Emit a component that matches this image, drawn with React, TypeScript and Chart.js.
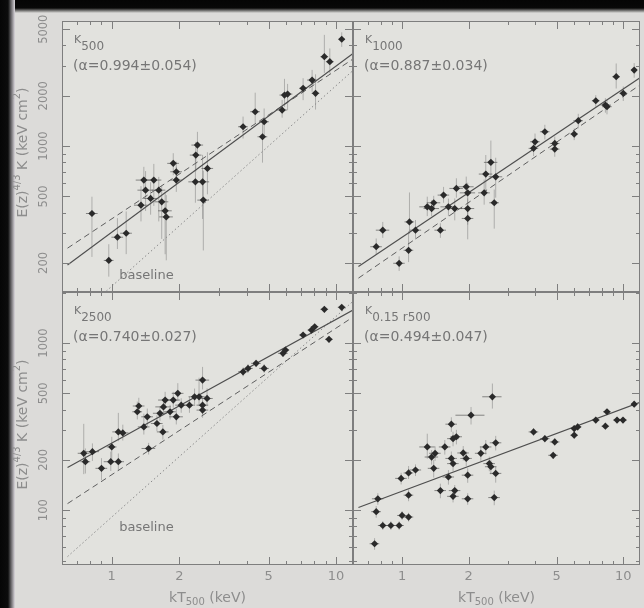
import React, { useEffect, useRef } from "react";
import { Chart, registerables } from "chart.js";

Chart.register(...registerables);

const W = 644;
const H = 608;

// plot-area edges of the 2x2 grid (pixels)
const PANEL_X = [
  [62, 353],
  [353, 642],
];
const PANEL_Y = [
  [21, 292],
  [292, 565],
];

const xTicks = [1, 2, 5, 10];
const yTicksUpper = [200, 500, 1000, 2000, 5000];
const yTicksLower = [100, 200, 500, 1000];

const kTRange = [0.635, 11.9];
const kUpperRange = [134, 5600];
const kLowerRange = [47, 2020];

// [kT (keV), K, frac. kT error, frac. K error below, frac. K error above]
const k500Data = [
  [0.816, 395, 0.06, 0.45, 0.26],
  [0.97, 207, 0.05, 0.2, 0.25],
  [1.06, 285, 0.06, 0.15, 0.3],
  [1.16, 301, 0.06, 0.25, 0.35],
  [1.35, 443, 0.07, 0.2, 0.3],
  [1.39, 626, 0.08, 0.15, 0.2],
  [1.415, 545, 0.08, 0.25, 0.3],
  [1.49, 486, 0.07, 0.2, 0.25],
  [1.54, 626, 0.08, 0.3, 0.25],
  [1.62, 545, 0.07, 0.35, 0.2],
  [1.67, 464, 0.07, 0.4, 0.25],
  [1.73, 410, 0.07, 0.45, 0.3],
  [1.75, 377, 0.07, 0.45, 0.35],
  [1.88, 788, 0.06, 0.15, 0.15],
  [1.94, 702, 0.06, 0.15, 0.15],
  [1.94, 626, 0.06, 0.15, 0.2],
  [2.37, 883, 0.06, 0.2, 0.2],
  [2.41, 1014, 0.06, 0.15, 0.2],
  [2.36, 611, 0.07, 0.25, 0.4],
  [2.54, 611, 0.07, 0.4, 0.45],
  [2.56, 475, 0.06, 0.5, 0.5],
  [2.67, 735, 0.06, 0.3, 0.25],
  [3.85, 1305, 0.05, 0.15, 0.15],
  [4.36, 1605, 0.05, 0.15, 0.3],
  [4.78, 1398, 0.05, 0.2, 0.2],
  [4.7, 1137, 0.05, 0.3, 0.2],
  [5.75, 1643, 0.05, 0.1, 0.15],
  [5.89, 2019, 0.05, 0.15, 0.25],
  [6.08, 2047, 0.05, 0.2, 0.15],
  [7.13, 2215, 0.04, 0.15, 0.15],
  [7.82, 2483, 0.05, 0.15, 0.15],
  [8.1, 2067, 0.04, 0.2, 0.3],
  [8.87, 3426, 0.04, 0.2, 0.35],
  [9.38, 3197, 0.04, 0.15, 0.2],
  [10.6, 4355, 0.03, 0.1, 0.1],
];

const k1000Data = [
  [0.764, 250, 0.06, 0.1, 0.12],
  [0.818, 314, 0.07, 0.1, 0.12],
  [0.97, 199, 0.06, 0.1, 0.1],
  [1.07, 238, 0.05, 0.15, 0.3],
  [1.08, 352, 0.05, 0.15, 0.5],
  [1.15, 314, 0.06, 0.12, 0.15],
  [1.3, 433, 0.08, 0.12, 0.15],
  [1.36, 423, 0.08, 0.1, 0.12],
  [1.39, 458, 0.07, 0.1, 0.1],
  [1.49, 314, 0.06, 0.1, 0.1],
  [1.54, 509, 0.06, 0.1, 0.12],
  [1.62, 433, 0.08, 0.12, 0.12],
  [1.73, 423, 0.08, 0.15, 0.15],
  [1.76, 558, 0.07, 0.12, 0.15],
  [1.95, 571, 0.08, 0.12, 0.15],
  [1.98, 525, 0.08, 0.15, 0.15],
  [1.98, 423, 0.07, 0.2, 0.15],
  [1.98, 369, 0.06, 0.25, 0.15],
  [2.35, 525, 0.06, 0.15, 0.2],
  [2.39, 680, 0.07, 0.2, 0.3],
  [2.52, 799, 0.07, 0.2, 0.35],
  [2.65, 655, 0.07, 0.25, 0.3],
  [2.61, 458, 0.05, 0.3, 0.2],
  [3.93, 969, 0.05, 0.1, 0.1],
  [3.99, 1061, 0.05, 0.1, 0.12],
  [4.42, 1218, 0.05, 0.1, 0.1],
  [4.9, 1037, 0.05, 0.1, 0.1],
  [4.9, 959, 0.05, 0.1, 0.1],
  [6.0, 1180, 0.04, 0.08, 0.08],
  [6.26, 1418, 0.05, 0.1, 0.1],
  [7.51, 1867, 0.04, 0.08, 0.08],
  [8.3, 1760, 0.05, 0.1, 0.1],
  [8.44, 1720, 0.05, 0.1, 0.1],
  [9.29, 2600, 0.04, 0.15, 0.2],
  [10.0, 2067, 0.04, 0.1, 0.1],
  [11.2, 2850, 0.03, 0.1, 0.1],
];

const k2500Data = [
  [0.75, 219, 0.06, 0.25, 0.5],
  [0.763, 195, 0.05, 0.15, 0.2],
  [0.82, 224, 0.07, 0.12, 0.12],
  [0.9, 178, 0.06, 0.15, 0.15],
  [1.0, 239, 0.05, 0.15, 0.15],
  [0.99, 195, 0.07, 0.12, 0.15],
  [1.07, 195, 0.06, 0.12, 0.12],
  [1.07, 294, 0.06, 0.12, 0.3],
  [1.12, 290, 0.06, 0.1, 0.12],
  [1.3, 388, 0.05, 0.1, 0.15],
  [1.32, 420, 0.06, 0.1, 0.12],
  [1.39, 315, 0.06, 0.1, 0.2],
  [1.44, 362, 0.06, 0.12, 0.12],
  [1.46, 234, 0.07, 0.08, 0.08],
  [1.59, 330, 0.06, 0.1, 0.12],
  [1.64, 380, 0.07, 0.1, 0.1],
  [1.7, 415, 0.08, 0.1, 0.1],
  [1.73, 456, 0.07, 0.1, 0.12],
  [1.69, 294, 0.06, 0.1, 0.1],
  [1.82, 388, 0.06, 0.1, 0.1],
  [1.88, 456, 0.07, 0.1, 0.12],
  [1.94, 362, 0.07, 0.1, 0.12],
  [1.97, 500, 0.06, 0.1, 0.15],
  [2.04, 425, 0.06, 0.1, 0.1],
  [2.22, 425, 0.06, 0.1, 0.12],
  [2.34, 477, 0.06, 0.1, 0.12],
  [2.45, 477, 0.06, 0.12, 0.3],
  [2.54, 600, 0.07, 0.12, 0.2],
  [2.54, 425, 0.06, 0.1, 0.12],
  [2.54, 397, 0.06, 0.1, 0.12],
  [2.66, 466, 0.06, 0.1, 0.15],
  [3.85, 673, 0.05, 0.06, 0.06],
  [4.05, 705, 0.05, 0.06, 0.06],
  [4.4, 756, 0.05, 0.05, 0.05],
  [4.78, 705, 0.05, 0.06, 0.06],
  [5.8, 868, 0.05, 0.05, 0.05],
  [5.95, 908, 0.04, 0.05, 0.05],
  [7.13, 1117, 0.04, 0.04, 0.04],
  [7.77, 1196, 0.04, 0.04, 0.04],
  [8.03, 1252, 0.04, 0.04, 0.04],
  [8.87, 1591, 0.04, 0.04, 0.04],
  [9.3, 1052, 0.04, 0.04, 0.04],
  [10.6, 1636, 0.04, 0.03, 0.03],
];

const kInnerData = [
  [0.751, 63, 0.05, 0.08, 0.08],
  [0.764, 98, 0.05, 0.08, 0.08],
  [0.777, 117, 0.06, 0.08, 0.08],
  [0.818, 81, 0.05, 0.06, 0.06],
  [0.89, 81, 0.05, 0.06, 0.06],
  [0.97, 81, 0.05, 0.06, 0.06],
  [1.0, 93, 0.05, 0.06, 0.06],
  [1.07, 91, 0.05, 0.06, 0.06],
  [1.07, 123, 0.05, 0.08, 0.08],
  [0.99, 155, 0.06, 0.08, 0.08],
  [1.07, 167, 0.05, 0.08, 0.1],
  [1.15, 174, 0.06, 0.08, 0.08],
  [1.3, 239, 0.08, 0.15, 0.2],
  [1.36, 208, 0.07, 0.1, 0.1],
  [1.41, 219, 0.06, 0.1, 0.1],
  [1.39, 178, 0.06, 0.12, 0.12],
  [1.49, 131, 0.06, 0.1, 0.1],
  [1.56, 239, 0.06, 0.1, 0.1],
  [1.62, 158, 0.06, 0.1, 0.1],
  [1.67, 327, 0.06, 0.1, 0.1],
  [1.7, 268, 0.06, 0.1, 0.1],
  [1.76, 275, 0.06, 0.1, 0.1],
  [1.67, 204, 0.06, 0.1, 0.1],
  [1.7, 190, 0.06, 0.1, 0.1],
  [1.73, 131, 0.06, 0.08, 0.08],
  [1.7, 121, 0.06, 0.08, 0.08],
  [1.89, 220, 0.06, 0.1, 0.1],
  [1.95, 204, 0.06, 0.1, 0.1],
  [1.98, 162, 0.06, 0.1, 0.1],
  [1.98, 117, 0.06, 0.08, 0.08],
  [2.05, 370, 0.15, 0.12, 0.12],
  [2.27, 219, 0.06, 0.1, 0.1],
  [2.39, 239, 0.06, 0.1, 0.1],
  [2.48, 190, 0.06, 0.1, 0.1],
  [2.52, 182, 0.06, 0.1, 0.1],
  [2.56, 477, 0.1, 0.15, 0.2],
  [2.65, 253, 0.06, 0.1, 0.1],
  [2.65, 166, 0.06, 0.12, 0.1],
  [2.61, 119, 0.06, 0.1, 0.1],
  [3.93, 294, 0.05, 0.05, 0.05],
  [4.42, 268, 0.05, 0.05, 0.05],
  [4.9, 256, 0.05, 0.05, 0.05],
  [4.82, 213, 0.05, 0.05, 0.05],
  [6.0, 308, 0.04, 0.05, 0.05],
  [6.22, 315, 0.04, 0.05, 0.05],
  [6.0, 281, 0.04, 0.05, 0.05],
  [7.51, 346, 0.04, 0.04, 0.04],
  [8.3, 318, 0.04, 0.04, 0.04],
  [8.44, 388, 0.04, 0.04, 0.04],
  [9.37, 346, 0.04, 0.04, 0.04],
  [9.97, 346, 0.04, 0.04, 0.04],
  [11.2, 431, 0.03, 0.04, 0.04],
];

const panelData = [k500Data, k1000Data, k2500Data, kInnerData];
const panelSub = ["500", "1000", "2500", "0.15 r500"];

// best-fit power laws K = norm * kT^alpha
const fitAlpha = [0.994, 0.887, 0.74, 0.494];
const fitAlphaErr = [0.054, 0.034, 0.027, 0.047];
const fitNorm = [305, 285, 252, 130];

// dashed comparison relations
const altNorm = [367, 245, 163, null];
const altSlope = [0.889, 0.908, 0.877, null];

// dotted baseline entropy relations
const baseNorm = [145, null, 91, null];
const baseSlope = [1.2, null, 1.2, null];
const baseLabelAt = [[1.08, 168], null, [1.08, 79], null];

const TICK_COLOR = "#8d8d8d";
const TEXT_COLOR = "#767676";
const FONT = "'DejaVu Sans', sans-serif";

function logSteps(min: number, max: number) {
  const out: number[] = [];
  for (let e = Math.floor(Math.log10(min)); e <= Math.ceil(Math.log10(max)); e++) {
    for (let m = 1; m < 10; m++) {
      const v = m * Math.pow(10, e);
      if (v >= min && v <= max) out.push(v);
    }
  }
  return out;
}

function powerLine(norm: number, slope: number) {
  return kTRange.map((t) => ({ x: t, y: norm * Math.pow(t, slope) }));
}

function drawSubText(
  ctx: CanvasRenderingContext2D,
  parts: { t: string; size: number; dy: number }[],
  x: number,
  y: number,
  align: "left" | "center"
) {
  let total = 0;
  for (const p of parts) {
    ctx.font = `${p.size}px ${FONT}`;
    total += ctx.measureText(p.t).width;
  }
  let cx = align === "center" ? x - total / 2 : x;
  ctx.textAlign = "left";
  ctx.textBaseline = "middle";
  for (const p of parts) {
    ctx.font = `${p.size}px ${FONT}`;
    ctx.fillText(p.t, cx, y + p.dy);
    cx += ctx.measureText(p.t).width;
  }
}

function makeChart(canvas: HTMLCanvasElement, idx: number) {
  const col = idx % 2;
  const row = Math.floor(idx / 2);
  const [left, right] = PANEL_X[col];
  const [top, bottom] = PANEL_Y[row];
  const pts = panelData[idx];
  const yRange = row === 0 ? kUpperRange : kLowerRange;
  const yTicks = row === 0 ? yTicksUpper : yTicksLower;

  const datasets: any[] = [];
  datasets.push({
    type: "scatter",
    data: pts.map((p) => ({ x: p[0], y: p[1] })),
    pointStyle: "rectRot",
    pointRadius: 3.6,
    backgroundColor: "#2a2a2a",
    borderWidth: 0,
  });
  datasets.push({
    type: "line",
    data: powerLine(fitNorm[idx], fitAlpha[idx]),
    borderColor: "#4e4e4e",
    borderWidth: 1.1,
    pointRadius: 0,
  });
  if (altNorm[idx] != null) {
    datasets.push({
      type: "line",
      data: powerLine(altNorm[idx] as number, altSlope[idx] as number),
      borderColor: "#5e5e5e",
      borderWidth: 1,
      borderDash: [6, 4],
      pointRadius: 0,
    });
  }
  if (baseNorm[idx] != null) {
    datasets.push({
      type: "line",
      data: powerLine(baseNorm[idx] as number, baseSlope[idx] as number),
      borderColor: "#8c8c8c",
      borderWidth: 1,
      borderDash: [1.5, 2.5],
      pointRadius: 0,
    });
  }

  const plotBg = {
    id: "plotBg",
    beforeDraw(chart: any) {
      const { ctx, chartArea: a } = chart;
      ctx.save();
      ctx.fillStyle = "#e2e2de";
      ctx.fillRect(a.left, a.top, a.right - a.left, a.bottom - a.top);
      ctx.restore();
    },
  };

  const errorBars = {
    id: "errorBars",
    beforeDatasetsDraw(chart: any) {
      const { ctx, chartArea: a, scales } = chart;
      const xs = scales.x;
      const ys = scales.y;
      ctx.save();
      ctx.beginPath();
      ctx.rect(a.left, a.top, a.right - a.left, a.bottom - a.top);
      ctx.clip();
      ctx.lineWidth = 1;
      for (const p of pts) {
        const [t, k, et, eklo, ekhi] = p;
        const px = xs.getPixelForValue(t);
        const py = ys.getPixelForValue(k);
        ctx.strokeStyle = "rgba(70,70,70,0.6)";
        ctx.beginPath();
        ctx.moveTo(xs.getPixelForValue(t * (1 - et)), py);
        ctx.lineTo(xs.getPixelForValue(t * (1 + et)), py);
        ctx.stroke();
        ctx.strokeStyle = "rgba(110,110,110,0.45)";
        ctx.beginPath();
        ctx.moveTo(px, ys.getPixelForValue(k * (1 - eklo)));
        ctx.lineTo(px, ys.getPixelForValue(k * (1 + ekhi)));
        ctx.stroke();
      }
      ctx.restore();
    },
  };

  const frame = {
    id: "frame",
    afterDatasetsDraw(chart: any) {
      const { ctx, chartArea: a, scales } = chart;
      const xs = scales.x;
      const ys = scales.y;
      ctx.save();
      ctx.strokeStyle = "#7e7e7e";
      ctx.lineWidth = 1;
      ctx.strokeRect(a.left + 0.5, a.top + 0.5, a.right - a.left - 1, a.bottom - a.top - 1);
      ctx.beginPath();
      for (const v of logSteps(kTRange[0], kTRange[1])) {
        const px = Math.round(xs.getPixelForValue(v)) + 0.5;
        const len = xTicks.includes(v) ? 8 : 4;
        ctx.moveTo(px, a.bottom);
        ctx.lineTo(px, a.bottom - len);
        ctx.moveTo(px, a.top);
        ctx.lineTo(px, a.top + len);
      }
      for (const v of logSteps(yRange[0], yRange[1])) {
        const py = Math.round(ys.getPixelForValue(v)) + 0.5;
        const len = yTicks.includes(v) ? 8 : 4;
        ctx.moveTo(a.left, py);
        ctx.lineTo(a.left + len, py);
        ctx.moveTo(a.right, py);
        ctx.lineTo(a.right - len, py);
      }
      ctx.stroke();
      ctx.restore();
    },
  };

  const labels = {
    id: "labels",
    afterDraw(chart: any) {
      const { ctx, chartArea: a, scales } = chart;
      ctx.save();
      ctx.fillStyle = TEXT_COLOR;
      drawSubText(
        ctx,
        [
          { t: "K", size: 11, dy: -3 },
          { t: panelSub[idx], size: 12, dy: 4 },
        ],
        a.left + 12,
        a.top + 22,
        "left"
      );
      ctx.font = `14px ${FONT}`;
      ctx.textAlign = "left";
      ctx.textBaseline = "middle";
      ctx.fillText(
        `(α=${fitAlpha[idx].toFixed(3)}±${fitAlphaErr[idx].toFixed(3)})`,
        a.left + 11,
        a.top + 45
      );
      const bl = baseLabelAt[idx];
      if (bl) {
        ctx.font = `13px ${FONT}`;
        ctx.fillText("baseline", scales.x.getPixelForValue(bl[0]), scales.y.getPixelForValue(bl[1]));
      }
      ctx.fillStyle = TICK_COLOR;
      if (col === 0) {
        ctx.save();
        ctx.translate(23, (a.top + a.bottom) / 2 - 4);
        ctx.rotate(-Math.PI / 2);
        drawSubText(
          ctx,
          [
            { t: "E(z)", size: 14, dy: 0 },
            { t: "4/3", size: 10, dy: -6 },
            { t: " K (keV cm", size: 14, dy: 0 },
            { t: "2", size: 10, dy: -6 },
            { t: ")", size: 14, dy: 0 },
          ],
          0,
          0,
          "center"
        );
        ctx.restore();
      }
      if (row === 1) {
        drawSubText(
          ctx,
          [
            { t: "kT", size: 14, dy: 0 },
            { t: "500", size: 10, dy: 4 },
            { t: " (keV)", size: 14, dy: 0 },
          ],
          (a.left + a.right) / 2,
          598,
          "center"
        );
      }
      ctx.restore();
    },
  };

  return new Chart(canvas, {
    type: "scatter",
    data: { datasets },
    options: {
      responsive: false,
      animation: false,
      events: [],
      layout: { padding: { left: 0, top, right: W - right, bottom: 0 } },
      plugins: { legend: { display: false }, tooltip: { enabled: false } },
      scales: {
        x: {
          type: "logarithmic",
          min: kTRange[0],
          max: kTRange[1],
          afterBuildTicks: (s: any) => {
            s.ticks = xTicks.map((v) => ({ value: v }));
          },
          afterFit: (s: any) => {
            s.height = H - bottom;
          },
          grid: { display: false, drawTicks: false },
          border: { display: false },
          ticks: {
            display: row === 1,
            autoSkip: false,
            maxRotation: 0,
            minRotation: 0,
            padding: 4,
            color: TICK_COLOR,
            font: { family: FONT, size: 13 },
            callback: (v: any) => String(v),
          },
        },
        y: {
          type: "logarithmic",
          min: yRange[0],
          max: yRange[1],
          afterBuildTicks: (s: any) => {
            s.ticks = yTicks.map((v) => ({ value: v }));
          },
          afterFit: (s: any) => {
            s.width = left;
          },
          grid: { display: false, drawTicks: false },
          border: { display: false },
          ticks: {
            display: col === 0,
            autoSkip: false,
            minRotation: 90,
            maxRotation: 90,
            crossAlign: "center",
            padding: 3,
            color: TICK_COLOR,
            font: { family: FONT, size: 11.5 },
            callback: (v: any) => String(v),
          },
        },
      },
    },
    plugins: [plotBg, errorBars, frame, labels],
  } as any);
}

export default function App() {
  const refs = [
    useRef<HTMLCanvasElement>(null),
    useRef<HTMLCanvasElement>(null),
    useRef<HTMLCanvasElement>(null),
    useRef<HTMLCanvasElement>(null),
  ];

  useEffect(() => {
    const charts = refs.map((r, i) => makeChart(r.current as HTMLCanvasElement, i));
    return () => charts.forEach((c) => c.destroy());
  }, []);

  return (
    <div
      style={{
        position: "fixed",
        left: 0,
        top: 0,
        width: W,
        height: H,
        overflow: "hidden",
        background: "#dcdbd9",
      }}
    >
      <div
        style={{
          position: "absolute",
          left: 0,
          top: 0,
          width: W,
          height: 13,
          background: "linear-gradient(#050505 0px, #080808 8px, #dcdbd9 13px)",
        }}
      />
      <div
        style={{
          position: "absolute",
          left: 0,
          top: 0,
          width: 15,
          height: H,
          background: "linear-gradient(90deg, #060606 0px, #0c0c0c 8px, #dcd8de 15px)",
        }}
      />
      {refs.map((r, i) => (
        <canvas
          key={i}
          ref={r}
          width={W}
          height={H}
          style={{ position: "absolute", left: 0, top: 0, width: W, height: H }}
        />
      ))}
    </div>
  );
}
